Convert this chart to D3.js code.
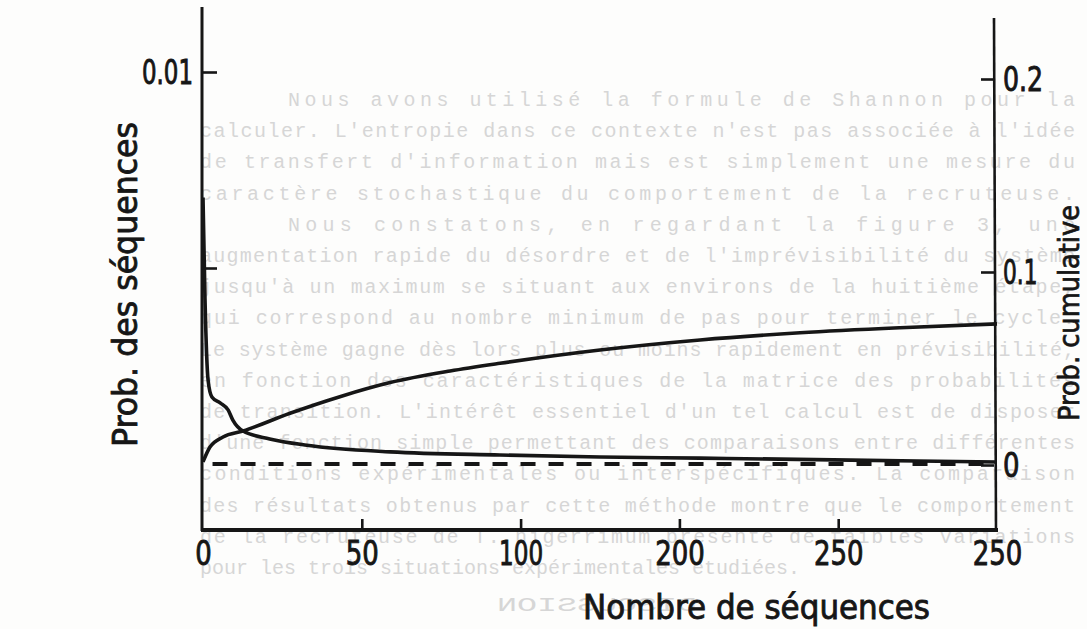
<!DOCTYPE html>
<html>
<head>
<meta charset="utf-8">
<script src="https://cdn.jsdelivr.net/npm/d3@7"></script>
<style>
  html, body { margin: 0; padding: 0; background: #fdfdfc; }
  svg { display: block; }
</style>
</head>
<body>
<svg id="chart" width="1087" height="629"></svg>
<script>
// ---- data ----
const seqX      = [0, 0.63, 1.6, 2.8, 5.4, 7.9, 9.4, 12.6, 21, 32.7, 59, 93.5, 125, 156.5, 204, 250];
const seqProb   = [0.0068, 0.0042, 0.00214, 0.00171, 0.00156, 0.00138, 0.00112, 0.00084, 0.00064, 0.00048, 0.00031, 0.00023, 0.00018, 0.00015, 0.0001, 0.00005];
const cumX      = [0, 2.2, 6.3, 12.6, 27.4, 43.1, 58.9, 77.8, 93.5, 125, 156.5, 188, 219.5, 250];
const cumProb   = [0.0016, 0.0093, 0.0145, 0.0176, 0.0268, 0.0354, 0.0427, 0.0487, 0.0527, 0.0596, 0.0648, 0.0685, 0.0711, 0.0731];
const baseX     = [3, 250];
const baseVal   = [0, 0];
const xTickValues = [0, 50, 100, 150, 200, 250];
const xTickLabels = ["0", "50", "100", "200", "250", "250"];
const leftTickValues = [0.005, 0.01];
const leftTickLabels = ["", "0.01"];
const rightTickValues = [0, 0.1, 0.2];
const rightTickLabels = ["0", "0.1", "0.2"];
const xTitle = "Nombre de séquences";
const leftTitle = "Prob. des séquences";
const rightTitle = "Prob. cumulative";
// faint typewritten text of the scanned page showing behind the figure
const bgLines = [
  "Nous avons utilisé la formule de Shannon pour la",
  "calculer. L'entropie dans ce contexte n'est pas associée à l'idée",
  "de transfert d'information mais est simplement une mesure du",
  "caractère stochastique du comportement de la recruteuse.",
  "Nous constatons, en regardant la figure 3, une",
  "augmentation rapide du désordre et de l'imprévisibilité du système",
  "jusqu'à un maximum se situant aux environs de la huitième étape,",
  "qui correspond au nombre minimum de pas pour terminer le cycle.",
  "Le système gagne dès lors plus ou moins rapidement en prévisibilité,",
  "en fonction des caractéristiques de la matrice des probabilités",
  "de transition. L'intérêt essentiel d'un tel calcul est de disposer",
  "d'une fonction simple permettant des comparaisons entre différentes",
  "conditions expérimentales ou interspécifiques. La comparaison",
  "des résultats obtenus par cette méthode montre que le comportement",
  "de la recruteuse de T. nigerrimum présente de faibles variations",
  "pour les trois situations expérimentales étudiées."
];
const bgIndent = [true, false, false, false, true, false, false, false, false, false, false, false, false, false, false, false];
const bgJustified = [true, true, true, true, true, true, true, true, true, true, true, true, true, true, true, false];
const bgHeading = "DISCUSSION";

// ---- drawing ----
const svg = d3.select("#chart");
const ink = "#161616";
const font = "'Liberation Sans Narrow', 'DejaVu Sans Condensed', 'Arial Narrow', sans-serif";

// background show-through text (drawn first, very faint)
const bgY = d3.scaleLinear().domain([0, bgLines.length - 1]).range([106, 574]);
const bg = svg.append("g").attr("class", "show-through")
  .attr("font-family", "'Liberation Mono', 'DejaVu Sans Mono', monospace")
  .attr("font-size", 20).attr("fill", "#d6d6d6");
bg.selectAll("text.line").data(bgLines).join("text").attr("class", "line")
  .attr("x", (d, i) => bgIndent[i] ? 288 : 200)
  .attr("y", (d, i) => bgY(i))
  .each(function (d, i) {
    if (bgJustified[i]) d3.select(this)
      .attr("textLength", bgIndent[i] ? 787 : 875).attr("lengthAdjust", "spacing");
  })
  .text(d => d);
bg.append("text").attr("x", 597).attr("y", 611).attr("text-anchor", "middle")
  .attr("transform", "translate(1194,0) scale(-1,1)")
  .attr("textLength", 200).attr("lengthAdjust", "spacingAndGlyphs")
  .text(bgHeading);

// narrow lettering of the original: approximate glyph advance per character
const glyphW = ch => ch === "1" ? 11 : ch === "." ? 7 : 16.5;
const labelWidth = s => Array.from(s).reduce((a, c) => a + glyphW(c), 0);

const x = d3.scaleLinear().domain([0, 250]).range([203, 997]);
const yL = d3.scaleLinear().domain([0, 0.01]).range([464, 72]);
const yR = d3.scaleLinear().domain([0, 0.2]).range([465, 79]);

// axis lines (frame)
svg.append("line").attr("x1", 202).attr("x2", 202).attr("y1", 7).attr("y2", 531)
  .attr("stroke", ink).attr("stroke-width", 3);
svg.append("line").attr("x1", 994).attr("x2", 996).attr("y1", 18).attr("y2", 531)
  .attr("stroke", ink).attr("stroke-width", 2.6);
svg.append("line").attr("x1", 201).attr("x2", 998).attr("y1", 530).attr("y2", 530)
  .attr("stroke", ink).attr("stroke-width", 4);

function styleAxis(g) {
  g.select(".domain").remove();
  g.selectAll(".tick line").attr("stroke", ink).attr("stroke-width", 2.6);
  g.selectAll(".tick text").attr("fill", ink).attr("font-family", font).attr("font-size", 33)
    .attr("stroke", ink).attr("stroke-width", 0.9)
    .each(function () {
      const t = d3.select(this), s = t.text();
      if (s) t.attr("textLength", labelWidth(s)).attr("lengthAdjust", "spacingAndGlyphs");
    });
}

// bottom axis
const gx = svg.append("g").attr("transform", "translate(0,530)")
  .call(d3.axisBottom(x).tickValues(xTickValues)
    .tickFormat((d, i) => xTickLabels[i]).tickSizeInner(-11).tickSizeOuter(0).tickPadding(12));
styleAxis(gx);
gx.selectAll(".tick").filter(d => d === 0 || d === 250).select("line").remove();

// left axis
const gl = svg.append("g").attr("transform", "translate(202,0)")
  .call(d3.axisLeft(yL).tickValues(leftTickValues)
    .tickFormat((d, i) => leftTickLabels[i]).tickSizeInner(-15).tickSizeOuter(0).tickPadding(9));
styleAxis(gl);
gl.selectAll(".tick text").attr("dy", "0.36em");

// right axis
const gr = svg.append("g").attr("transform", "translate(994,0)")
  .call(d3.axisRight(yR).tickValues(rightTickValues)
    .tickFormat((d, i) => rightTickLabels[i]).tickSizeInner(-13).tickSizeOuter(0).tickPadding(9));
styleAxis(gr);
gr.selectAll(".tick text").attr("dy", "0.36em");

// curves
const lineL = d3.line().x(d => x(d[0])).y(d => yL(d[1])).curve(d3.curveMonotoneX);
const lineR = d3.line().x(d => x(d[0])).y(d => yR(d[1])).curve(d3.curveMonotoneX);

svg.append("path").datum(baseX.map((v, i) => [v, baseVal[i]]))
  .attr("d", lineL).attr("fill", "none").attr("stroke", ink)
  .attr("stroke-width", 4).attr("stroke-dasharray", "15,13");

svg.append("path").datum(seqX.map((v, i) => [v, seqProb[i]]))
  .attr("d", lineL).attr("fill", "none").attr("stroke", ink).attr("stroke-width", 3.6);

svg.append("path").datum(cumX.map((v, i) => [v, cumProb[i]]))
  .attr("d", lineR).attr("fill", "none").attr("stroke", ink).attr("stroke-width", 3.6);

// titles
svg.append("text").attr("x", 583).attr("y", 619)
  .attr("font-family", font).attr("font-size", 33).attr("fill", ink)
  .attr("stroke", ink).attr("stroke-width", 0.8)
  .attr("textLength", 347).attr("lengthAdjust", "spacingAndGlyphs")
  .text(xTitle);

svg.append("text").attr("transform", "translate(137,447) rotate(-90)")
  .attr("font-family", font).attr("font-size", 34).attr("fill", ink)
  .attr("stroke", ink).attr("stroke-width", 0.8)
  .attr("textLength", 325).attr("lengthAdjust", "spacingAndGlyphs")
  .text(leftTitle);

svg.append("text").attr("transform", "translate(1079,421) rotate(-90)")
  .attr("font-family", font).attr("font-size", 28).attr("fill", ink)
  .attr("stroke", ink).attr("stroke-width", 0.7)
  .attr("textLength", 216).attr("lengthAdjust", "spacingAndGlyphs")
  .text(rightTitle);
</script>
</body>
</html>
